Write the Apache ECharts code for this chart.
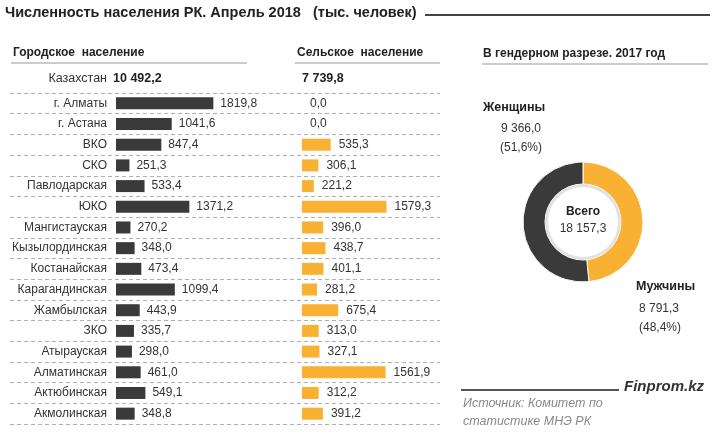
<!DOCTYPE html>
<html><head><meta charset="utf-8">
<script src="https://cdn.jsdelivr.net/npm/echarts@6/dist/echarts.min.js"></script>
<style>html,body{margin:0;padding:0;background:#fff}#c{width:720px;height:437px}</style>
</head><body><div id="c"></div>
<script>
const regions = ['г. Алматы','г. Астана','ВКО','СКО','Павлодарская','ЮКО','Мангистауская','Кызылординская','Костанайская','Карагандинская','Жамбылская','ЗКО','Атырауская','Алматинская','Актюбинская','Акмолинская'];
const urban = [1819.8,1041.6,847.4,251.3,533.4,1371.2,270.2,348.0,473.4,1099.4,443.9,335.7,298.0,461.0,549.1,348.8];
const rural = [0.0,0.0,535.3,306.1,221.2,1579.3,396.0,438.7,401.1,281.2,675.4,313.0,327.1,1561.9,312.2,391.2];
const totalUrban = 10492.2;
const totalRural = 7739.8;
const genderNames = ['Мужчины','Женщины'];
const genderValues = [8791.3, 9366.0];
const genderShares = [48.4, 51.6];
const totalPop = 18157.3;

const FONT = 'Liberation Sans';
const DARK = '#3a3a3a';
const ORANGE = '#F8B133';
function fmt(v){ return v.toFixed(1).replace('.', ','); }
function fmtSp(v){
  const s = v.toFixed(1).split('.');
  return s[0].replace(/\B(?=(\d{3})+(?!\d))/g, ' ') + ',' + s[1];
}

const chart = echarts.init(document.getElementById('c'));
const T = (x,y,text,style) => ({type:'text', x, y, style:Object.assign({text, fontFamily:FONT, fontSize:12, fill:'#333', textVerticalAlign:'middle'}, style)});
const L = (x1,y1,x2,y2,stroke,w) => ({type:'line', shape:{x1,y1,x2,y2}, style:{stroke, lineWidth:w}});

chart.setOption({
  animation:false,
  grid:[
    {left:116, top:93, width:107, height:331},
    {left:302, top:93, width:107, height:331},
    {left:10, top:93, width:430, height:331}
  ],
  xAxis:[
    {gridIndex:0, type:'value', min:0, max:2000, show:false},
    {gridIndex:1, type:'value', min:0, max:2000, show:false},
    {gridIndex:2, type:'value', min:0, max:1, show:false}
  ],
  yAxis:[
    {gridIndex:0, type:'category', data:regions, inverse:true,
     axisLine:{show:false}, axisTick:{show:false}, splitLine:{show:false},
     axisLabel:{margin:9, fontFamily:FONT, fontSize:12, color:'#333'}},
    {gridIndex:1, type:'category', data:regions, inverse:true, show:false},
    {gridIndex:2, type:'category', data:regions, inverse:true,
     axisLine:{show:false}, axisTick:{show:false}, axisLabel:{show:false},
     splitLine:{show:true, lineStyle:{color:'#b0b0b0', type:[4,3], width:1}}}
  ],
  series:[
    {type:'bar', xAxisIndex:0, yAxisIndex:0, data:urban, barWidth:12,
     itemStyle:{color:DARK},
     label:{show:true, position:'right', distance:7, fontFamily:FONT, fontSize:12, color:'#333', formatter:p=>fmt(p.value)}},
    {type:'bar', xAxisIndex:1, yAxisIndex:1, data:rural, barWidth:12,
     itemStyle:{color:ORANGE},
     label:{show:true, position:'right', distance:8, fontFamily:FONT, fontSize:12, color:'#333', formatter:p=>fmt(p.value)}},
    {type:'bar', xAxisIndex:2, yAxisIndex:2, data:[], silent:true},
    {type:'pie', center:[583,222], radius:[38,60], startAngle:90, clockwise:true,
     label:{show:false}, labelLine:{show:false}, silent:true,
     itemStyle:{borderColor:'#fff', borderWidth:1},
     data:genderNames.map((n,i)=>({name:n, value:genderValues[i], itemStyle:{color: i===0?ORANGE:DARK}}))},
    {type:'pie', center:[583,222], radius:[35,38], silent:true,
     label:{show:false}, labelLine:{show:false},
     data:[{name:'', value:totalPop, itemStyle:{color:'#e2e2e2'}}]}
  ],
  graphic:[
    T(5,13,'Численность населения РК. Апрель 2018   (тыс. человек)',{fontSize:14.5, fontWeight:'bold', fill:'#222'}),
    L(425,15,710,15,'#444',2),
    T(13,53,'Городское  население',{fontWeight:'bold', fill:'#222'}),
    L(11,63,247,63,'#999',1),
    T(297,53,'Сельское  население',{fontWeight:'bold', fill:'#222'}),
    L(295,63,440,63,'#999',1),
    T(483,54,'В гендерном разрезе. 2017 год',{fontWeight:'bold', fill:'#222'}),
    L(482,64,708,64,'#999',1),
    T(107,79,'Казахстан',{textAlign:'right', fontSize:12.5}),
    T(113,79,fmtSp(totalUrban),{fontWeight:'bold', fill:'#222', fontSize:12.5}),
    T(302,79,fmtSp(totalRural),{fontWeight:'bold', fill:'#222', fontSize:12.5}),
    T(483,108,genderNames[1],{fontWeight:'bold', fill:'#222', fontSize:12.5}),
    T(521,129,fmtSp(genderValues[1]),{textAlign:'center'}),
    T(521,148,'('+fmt(genderShares[1])+'%)',{textAlign:'center'}),
    T(583,212,'Всего',{textAlign:'center', fontWeight:'bold', fill:'#222'}),
    T(583,229,fmtSp(totalPop),{textAlign:'center'}),
    T(636,287,genderNames[0],{fontWeight:'bold', fill:'#222', fontSize:12.5}),
    T(639,309,fmtSp(genderValues[0]),{}),
    T(639,328,'('+fmt(genderShares[0])+'%)',{}),
    L(461,390,619,390,'#555',2),
    T(624,387,'Finprom.kz',{fontSize:15, fontWeight:'bold', fontStyle:'italic', fill:'#333'}),
    T(463,404,'Источник: Комитет по',{fontSize:12.5, fontStyle:'italic', fill:'#888'}),
    T(463,422,'статистике МНЭ РК',{fontSize:12.5, fontStyle:'italic', fill:'#888'})
  ]
});
</script></body></html>
